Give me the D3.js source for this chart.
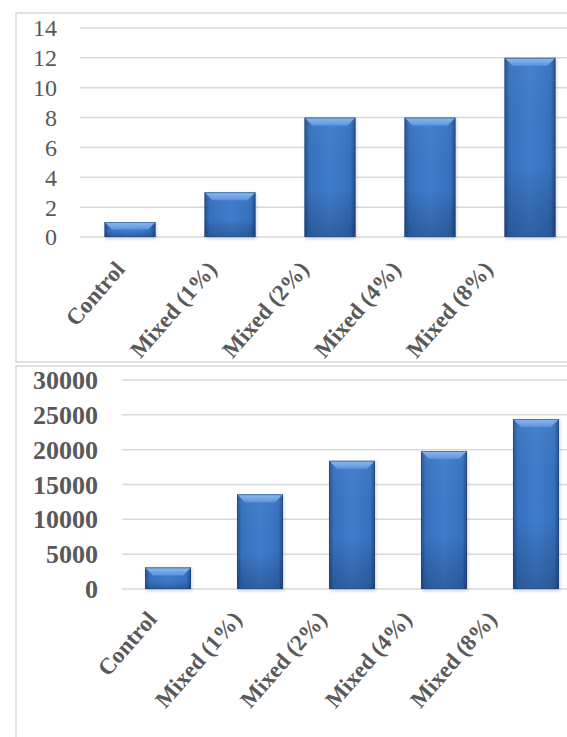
<!DOCTYPE html>
<html>
<head>
<meta charset="utf-8">
<script src="https://cdn.jsdelivr.net/npm/d3@7"></script>
<style>
  html, body { margin: 0; padding: 0; background: #fff; }
  svg { display: block; }
</style>
</head>
<body>
<svg id="chart" width="567" height="737"></svg>
<script>
// ---- data ----
const categories = ["Control", "Mixed (1%)", "Mixed (2%)", "Mixed (4%)", "Mixed (8%)"];
const topValues = [1, 3, 8, 8, 12];
const bottomValues = [3100, 13600, 18400, 19800, 24400];
const topTicks = [0, 2, 4, 6, 8, 10, 12, 14];
const bottomTicks = [0, 5000, 10000, 15000, 20000, 25000, 30000];

const svg = d3.select("#chart");
const defs = svg.append("defs");

// gradients
const gH = defs.append("linearGradient").attr("id", "bodyH").attr("x1", 0).attr("x2", 1).attr("y1", 0).attr("y2", 0);
[[0, "#24508e"], [0.1, "#3670bd"], [0.5, "#3e7dcd"], [0.9, "#3670bd"], [1, "#224c88"]]
  .forEach(([o, c]) => gH.append("stop").attr("offset", o).attr("stop-color", c));
const gV = defs.append("linearGradient").attr("id", "bodyV").attr("x1", 0).attr("x2", 0).attr("y1", 0).attr("y2", 1);
[[0, "#ffffff", 0.05], [0.6, "#000000", 0.0], [1, "#001030", 0.25]]
  .forEach(([o, c, a]) => gV.append("stop").attr("offset", o).attr("stop-color", c).attr("stop-opacity", a));
const gTop = defs.append("linearGradient").attr("id", "bevelTop").attr("x1", 0).attr("x2", 0).attr("y1", 0).attr("y2", 1);
[[0, "#8fbcf0"], [1, "#5b93dc"]]
  .forEach(([o, c]) => gTop.append("stop").attr("offset", o).attr("stop-color", c));
const shadow = defs.append("filter").attr("id", "shadow").attr("x", "-20%").attr("y", "-20%").attr("width", "140%").attr("height", "140%");
shadow.append("feGaussianBlur").attr("stdDeviation", 1.5);

const grid = "#d9d9d9";
const txt = "#595959";
const serif = "'Liberation Serif', 'Times New Roman', serif";

function bars(g, x, y, values) {
  const items = categories.map((c, i) => ({ c, v: values[i] }));
  const bw = x.bandwidth();
  const sel = g.selectAll("g.bar").data(items).join("g").attr("class", "bar");
  sel.append("rect")
    .attr("x", d => x(d.c) + 1).attr("y", d => y(d.v) + 1)
    .attr("width", bw).attr("height", d => y(0) - y(d.v) + 1)
    .attr("fill", "#000").attr("opacity", 0.18).attr("filter", "url(#shadow)");
  sel.append("rect")
    .attr("x", d => x(d.c)).attr("y", d => y(d.v))
    .attr("width", bw).attr("height", d => y(0) - y(d.v))
    .attr("fill", "url(#bodyH)");
  sel.append("rect")
    .attr("x", d => x(d.c)).attr("y", d => y(d.v))
    .attr("width", bw).attr("height", d => y(0) - y(d.v))
    .attr("fill", "url(#bodyV)");
  sel.append("polygon")
    .attr("points", d => {
      const x0 = x(d.c), x1 = x0 + bw, y0 = y(d.v);
      const b = Math.min(8, (y(0) - y0) / 2);
      return [[x0, y0], [x1, y0], [x1 - b, y0 + b], [x0 + b, y0 + b]].map(p => p.join(",")).join(" ");
    })
    .attr("fill", "url(#bevelTop)");
  sel.append("rect")
    .attr("x", d => x(d.c) + 0.5).attr("y", d => y(d.v) + 0.5)
    .attr("width", bw - 1).attr("height", d => y(0) - y(d.v) - 1)
    .attr("fill", "none").attr("stroke", "#1f477f").attr("stroke-opacity", 0.6).attr("stroke-width", 1);
}

// ---------- Top panel ----------
svg.append("rect").attr("x", 16).attr("y", 13).attr("width", 600).attr("height", 349)
  .attr("fill", "none").attr("stroke", grid).attr("stroke-width", 1.5);

const gT = svg.append("g");
const xT = d3.scaleBand().domain(categories).range([80, 580]).paddingInner(0.49).paddingOuter(0.245);
const yT = d3.scaleLinear().domain([0, 14]).range([237, 28]);
const lT = d3.scalePoint().domain(categories).range([126, 494]);

gT.append("g").selectAll("line").data(topTicks).join("line")
  .attr("x1", 80).attr("x2", 580).attr("y1", d => yT(d)).attr("y2", d => yT(d))
  .attr("stroke", grid).attr("stroke-width", 1.5);
gT.append("g").selectAll("text").data(topTicks).join("text")
  .attr("x", 57).attr("y", d => yT(d)).attr("dy", "0.35em")
  .attr("text-anchor", "end").attr("font-family", serif).attr("font-size", 24)
  .attr("fill", txt).text(d => d);
bars(gT.append("g"), xT, yT, topValues);
gT.append("g").selectAll("text").data(categories).join("text")
  .attr("transform", d => `translate(${lT(d)},270) rotate(-49)`)
  .attr("text-anchor", "end").attr("font-family", serif).attr("font-size", 23).attr("font-weight", "bold")
  .attr("fill", txt).text(d => d);

// ---------- Bottom panel ----------
svg.append("rect").attr("x", 16).attr("y", 366).attr("width", 600).attr("height", 400)
  .attr("fill", "none").attr("stroke", grid).attr("stroke-width", 1.5);

const gB = svg.append("g");
const xB = d3.scaleBand().domain(categories).range([122, 582]).paddingInner(0.5).paddingOuter(0.25);
const yB = d3.scaleLinear().domain([0, 30000]).range([589, 380]);
const lB = d3.scalePoint().domain(categories).range([158, 498]);

gB.append("g").selectAll("line").data(bottomTicks).join("line")
  .attr("x1", 122).attr("x2", 582).attr("y1", d => yB(d)).attr("y2", d => yB(d))
  .attr("stroke", grid).attr("stroke-width", 1.5);
gB.append("g").selectAll("text").data(bottomTicks).join("text")
  .attr("x", 98).attr("y", d => yB(d)).attr("dy", "0.35em")
  .attr("text-anchor", "end").attr("font-family", serif).attr("font-size", 26).attr("font-weight", "bold")
  .attr("fill", txt).text(d => d);
bars(gB.append("g"), xB, yB, bottomValues);
gB.append("g").selectAll("text").data(categories).join("text")
  .attr("transform", d => `translate(${lB(d)},620) rotate(-49)`)
  .attr("text-anchor", "end").attr("font-family", serif).attr("font-size", 23).attr("font-weight", "bold")
  .attr("fill", txt).text(d => d);
</script>
</body>
</html>
